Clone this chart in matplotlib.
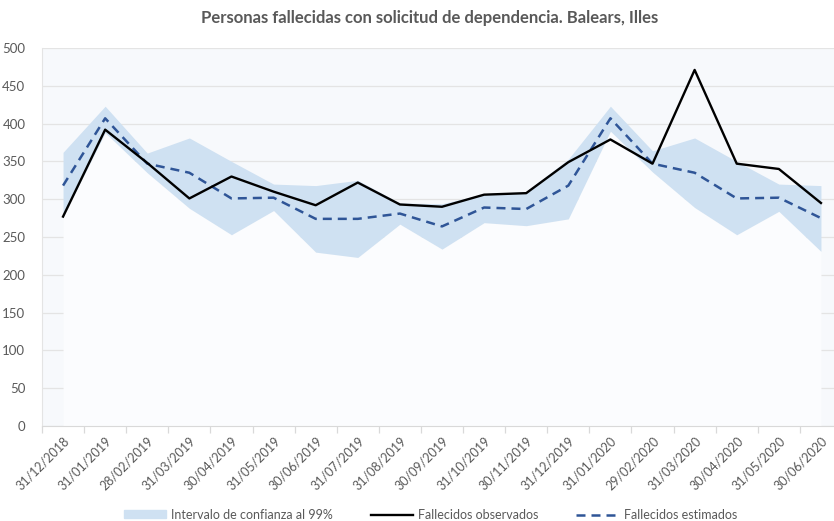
import matplotlib.pyplot as plt
from matplotlib.patches import Patch
from matplotlib.lines import Line2D

plt.rcParams['font.family'] = ['Lato', 'DejaVu Sans']

fechas = ['31/12/2018', '31/01/2019', '28/02/2019', '31/03/2019', '30/04/2019',
          '31/05/2019', '30/06/2019', '31/07/2019', '31/08/2019', '30/09/2019',
          '31/10/2019', '30/11/2019', '31/12/2019', '31/01/2020', '29/02/2020',
          '31/03/2020', '30/04/2020', '31/05/2020', '30/06/2020']
observados = [277, 392, 348, 301, 330, 310, 292, 322, 293, 290,
              306, 308, 349, 379, 347, 471, 347, 340, 295]
estimados = [318, 407, 347, 335, 301, 302, 274, 274, 281, 264,
             289, 287, 318, 407, 347, 335, 301, 302, 275]
ic_sup = [362, 423, 361, 381, 350, 320, 318, 325, 295, 294,
          307, 310, 353, 423, 364, 381, 350, 320, 318]
ic_inf = [277, 388, 335, 288, 253, 285, 230, 223, 267, 234,
          269, 265, 274, 390, 336, 289, 253, 284, 231]

gris = '#595959'
banda = '#CFE1F2'
azul = '#2F5597'

fig = plt.figure(figsize=(8.34, 5.21), dpi=100)
ax = fig.add_axes([42 / 834, 95 / 521, 800 / 834, 378 / 521])
ax.set_facecolor('#F7F9FC')

x = range(len(fechas))
ax.fill_between(x, 0, ic_inf, color='#FBFCFE', lw=0, zorder=1)
ax.fill_between(x, ic_inf, ic_sup, color=banda, lw=0, zorder=2)
ax.plot(x, observados, color='black', lw=1.7, zorder=4)
ax.plot(x, estimados, color=azul, lw=1.8, dashes=(3.6, 2.4), zorder=3)

ax.set_ylim(0, 500)
ax.set_xlim(-0.5, len(fechas) - 0.5)
ax.set_yticks(range(0, 501, 50))
ax.grid(axis='y', color='#E4E4E4', lw=0.9, zorder=0)
ax.set_axisbelow(True)

# tick marks sit between categories, labels at the centres
ax.set_xticks([i - 0.5 for i in range(len(fechas) + 1)])
ax.set_xticklabels([])
ax.set_xticks(list(x), minor=True)
ax.set_xticklabels(fechas, minor=True, rotation=45, ha='right',
                   rotation_mode='anchor', fontsize=9, color=gris)
ax.tick_params(axis='x', which='major', length=5, color='#D9D9D9', width=0.9)
ax.tick_params(axis='x', which='minor', length=0, pad=6)
ax.tick_params(axis='y', length=0, labelsize=9.5, labelcolor=gris, pad=12)

for s in ['top', 'right']:
    ax.spines[s].set_visible(False)
ax.spines['left'].set_color('#E4E4E4')
ax.spines['bottom'].set_color('#D9D9D9')

fig.text(0.515, 0.965, 'Personas fallecidas con solicitud de dependencia. Balears, Illes',
         ha='center', va='center', fontsize=12, fontweight='bold', color=gris)

handles = [Patch(color=banda, label='Intervalo de confianza al 99%'),
           Line2D([], [], color='black', lw=1.7, label='Fallecidos observados'),
           Line2D([], [], color=azul, lw=1.8, dashes=(3.6, 2.4), label='Fallecidos estimados')]
fig.legend(handles=handles, loc='center', bbox_to_anchor=(0.516, 0.012), ncol=3,
           frameon=False, fontsize=9, labelcolor=gris, columnspacing=3.0,
           handlelength=3.4, handleheight=0.6, handletextpad=0.4)

fig.savefig('out.png', dpi=100)
